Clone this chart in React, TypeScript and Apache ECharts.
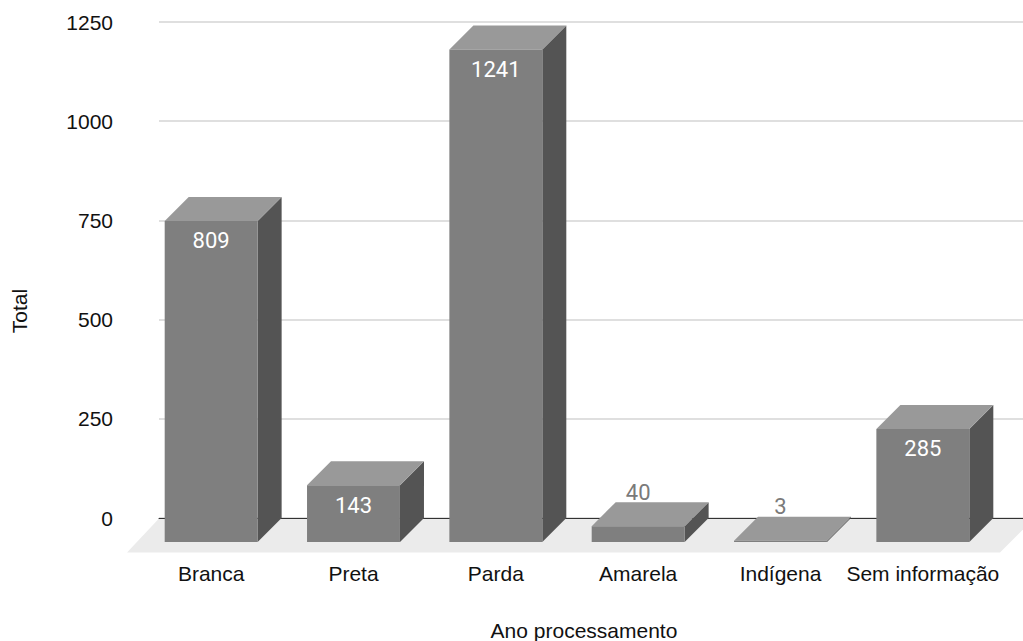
import React, { useEffect, useRef } from "react";
import * as echarts from "echarts";

// Categories and totals per category
const categories = ["Branca", "Preta", "Parda", "Amarela", "Indígena", "Sem informação"];
const totals = [809, 143, 1241, 40, 3, 285];
const yTicks = [0, 250, 500, 750, 1000, 1250];

const DEPTH = 24; // bar depth offset (px)
const FLOOR_DEPTH = 34;

const FRONT = "#7f7f7f";
const TOP = "#999999";
const SIDE = "#545454";

const AXIS_FONT = "Liberation Sans, Arial, sans-serif";
const VALUE_FONT = "Roboto, Arial, sans-serif";

export default function App() {
  const ref = useRef<HTMLDivElement>(null);

  useEffect(() => {
    if (!ref.current) return;
    const chart = echarts.init(ref.current, null, { renderer: "svg" });
    const yMax = yTicks[yTicks.length - 1];
    const yStep = yTicks[1] - yTicks[0];

    const option: any = {
      animation: false,
      textStyle: { fontFamily: AXIS_FONT },
      grid: [
        // front plane: bar faces and category labels
        { left: 140, top: 46, width: 854, height: 496 },
        // back plane: gridlines, value ticks, zero line
        { left: 159, right: 0, top: 22, height: 496 },
      ],
      xAxis: [
        {
          type: "category",
          gridIndex: 0,
          data: categories,
          axisLine: { show: false },
          axisTick: { show: false },
          axisLabel: {
            color: "#111",
            fontSize: 21,
            fontFamily: AXIS_FONT,
            margin: 21,
            interval: 0,
          },
        },
        {
          type: "category",
          gridIndex: 1,
          data: categories,
          z: 3,
          axisLine: { show: true, lineStyle: { color: "#333", width: 1 } },
          axisTick: { show: false },
          axisLabel: { show: false },
        },
      ],
      yAxis: [
        {
          type: "value",
          gridIndex: 0,
          min: 0,
          max: yMax,
          interval: yStep,
          show: false,
          splitLine: { show: false },
        },
        {
          type: "value",
          gridIndex: 1,
          min: 0,
          max: yMax,
          interval: yStep,
          axisLine: { show: false },
          axisTick: { show: false },
          axisLabel: {
            color: "#111",
            fontSize: 21,
            fontFamily: AXIS_FONT,
            margin: 46,
            formatter: (v: number) => String(v),
          },
          splitLine: { lineStyle: { color: "#d4d4d4", width: 1.5 } },
        },
      ],
      series: [
        {
          // floor under the bars
          type: "custom",
          xAxisIndex: 1,
          yAxisIndex: 1,
          z: 1,
          data: [[0, 0]],
          silent: true,
          renderItem: (params: any) => {
            const cs = params.coordSys;
            const by = cs.y + cs.height + 0.5;
            const xl = cs.x;
            const xr = cs.x + cs.width + 11;
            return {
              type: "polygon",
              shape: {
                points: [
                  [xl, by],
                  [xr, by],
                  [xr - FLOOR_DEPTH, by + FLOOR_DEPTH],
                  [xl - FLOOR_DEPTH + 2, by + FLOOR_DEPTH],
                ],
              },
              style: { fill: "#ebebeb" },
            };
          },
        },
        {
          // 3D bars: front face, top face, right side, value label
          type: "custom",
          xAxisIndex: 0,
          yAxisIndex: 0,
          z: 5,
          data: totals.map((v, i) => [i, v]),
          renderItem: (params: any, api: any) => {
            const idx = api.value(0);
            const val = api.value(1);
            const top = api.coord([idx, val]);
            const base = api.coord([idx, 0]);
            const w = api.size([1, 0])[0] * 0.653;
            const x0 = top[0] - w / 2;
            const x1 = top[0] + w / 2;
            const ty = top[1];
            const by = base[1];
            const d = DEPTH;
            const inside = by - ty > 40;
            return {
              type: "group",
              children: [
                {
                  type: "polygon",
                  shape: { points: [[x1, ty], [x1 + d, ty - d], [x1 + d, by - d], [x1, by]] },
                  style: { fill: SIDE },
                },
                {
                  type: "polygon",
                  shape: { points: [[x0, ty], [x0 + d, ty - d], [x1 + d, ty - d], [x1, ty]] },
                  style: { fill: TOP },
                },
                {
                  type: "rect",
                  shape: { x: x0, y: ty, width: w, height: by - ty },
                  style: { fill: FRONT },
                },
                {
                  type: "text",
                  x: top[0],
                  y: inside ? ty + 20 : ty - d - 10,
                  style: {
                    text: String(val),
                    fill: inside ? "#ffffff" : "#7a7a7a",
                    fontSize: 22,
                    fontFamily: VALUE_FONT,
                    align: "center",
                    verticalAlign: "middle",
                  },
                },
              ],
            };
          },
        },
      ],
      graphic: [
        {
          type: "text",
          x: 19,
          y: 311,
          rotation: Math.PI / 2,
          style: {
            text: "Total",
            fill: "#111",
            fontSize: 21,
            fontFamily: AXIS_FONT,
            align: "center",
            verticalAlign: "middle",
          },
        },
        {
          type: "text",
          x: 584,
          y: 630,
          style: {
            text: "Ano processamento",
            fill: "#111",
            fontSize: 21,
            fontFamily: AXIS_FONT,
            align: "center",
            verticalAlign: "middle",
          },
        },
      ],
    };
    chart.setOption(option);
    return () => chart.dispose();
  }, []);

  return (
    <div
      ref={ref}
      style={{ position: "fixed", left: 0, top: 0, width: 1023, height: 641, background: "#fff" }}
    />
  );
}
